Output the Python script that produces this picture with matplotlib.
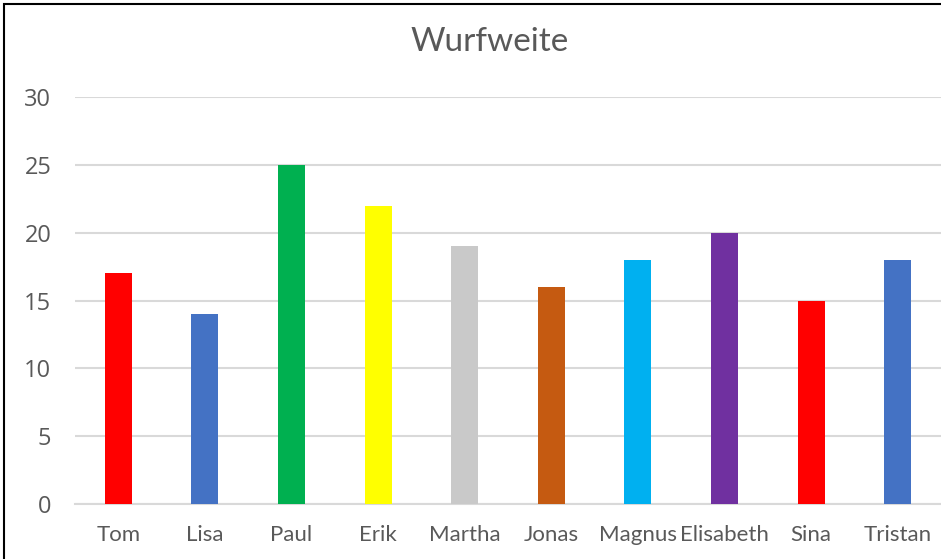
import matplotlib.pyplot as plt
from matplotlib.patches import Rectangle

names = ['Tom', 'Lisa', 'Paul', 'Erik', 'Martha', 'Jonas', 'Magnus', 'Elisabeth', 'Sina', 'Tristan']
values = [17, 14, 25, 22, 19, 16, 18, 20, 15, 18]
colors = ['#FF0000', '#4472C4', '#00B050', '#FFFF00', '#C9C9C9',
          '#C55A11', '#00B0F0', '#7030A0', '#FF0000', '#4472C4']
yticks = [0, 5, 10, 15, 20, 25, 30]

txt = '#595959'
grid = '#D9D9D9'

fig = plt.figure(figsize=(9.41, 5.59), dpi=100)
ax = fig.add_axes([75 / 941, 55 / 559, 1 - 75 / 941, (504 - 97) / 559])

x = range(len(names))
ax.bar(x, values, width=0.31, color=colors, zorder=3)
ax.set_xlim(-0.5, len(names) - 0.5)
ax.set_ylim(0, 30)
ax.set_yticks(yticks)
ax.set_xticks(list(x))
ax.set_xticklabels(names, fontsize=16, color=txt, family='Lato')
ax.set_yticklabels([str(t) for t in yticks], fontsize=17, color=txt, family='Open Sans')
ax.tick_params(axis='y', length=0, pad=17)
ax.tick_params(axis='x', length=0, pad=15)
ax.grid(axis='y', color=grid, linewidth=1.5, zorder=0)
for s in ['top', 'right', 'left']:
    ax.spines[s].set_visible(False)
ax.spines['bottom'].set_color(grid)
ax.spines['bottom'].set_linewidth(1.5)

fig.text(490 / 941, 1 - 42 / 559, 'Wurfweite', ha='center', va='center',
         fontsize=24, color=txt, family='Lato')

# border of the chart frame (cut off at right/bottom)
fig.add_artist(Rectangle((4 / 941, -0.1), 1.2, 1 - 4 / 559 + 0.1, transform=fig.transFigure,
                         fill=False, edgecolor='black', linewidth=1.5))

fig.savefig('out.png', dpi=100)
